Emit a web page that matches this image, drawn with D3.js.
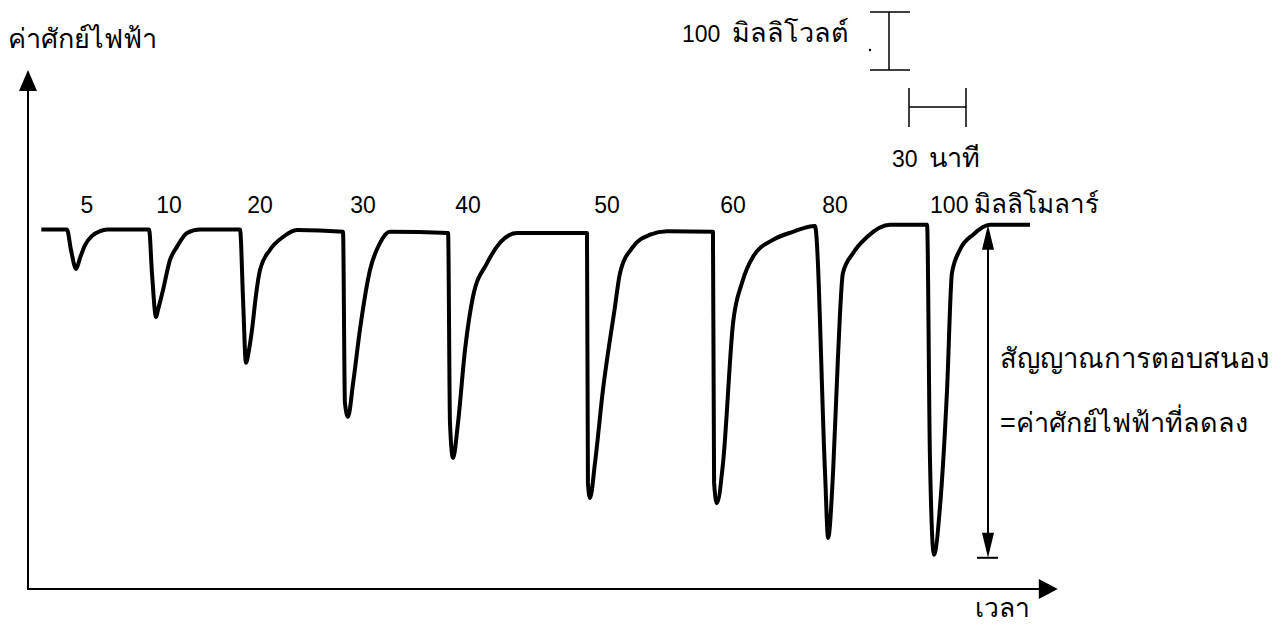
<!DOCTYPE html>
<html>
<head>
<meta charset="utf-8">
<script src="https://cdn.jsdelivr.net/npm/d3@7"></script>
<style>
  body { margin: 0; background: #fff; }
  text { font-family: "Liberation Sans", Arial, sans-serif; fill: #000; }
</style>
</head>
<body>
<svg id="chart" width="1282" height="635"></svg>
<script>
// concentrations added (millimolar) and the time each dose went in (minutes)
const concentrations = [5, 10, 20, 30, 40, 50, 60, 80, 100];
const onsetTimes = [20.5, 63.7, 111.6, 165.8, 221.1, 294.2, 360.5, 414.2, 473.2];

// recorded trace: time (min) and potential relative to baseline (mV)
const traceTime = [7, 20.5, 22.6, 25.3, 27.4, 30, 33.7, 37.9, 41.6,
  63.7, 65.3, 67.4, 68.4, 71.1, 74.7, 78.4, 83.7, 90.5,
  111.6, 113.2, 114.7, 116.3, 117.9, 120, 122.1, 127.4, 134.2, 141.6,
  165.8, 166.8, 168.4, 171.1, 174.7, 180, 185.3, 190.5,
  221.1, 222.1, 223.7, 226.3, 230, 234.2, 241.6, 248.4, 257.4,
  294.2, 294.7, 295.8, 298.4, 302.6, 308.9, 311.6, 318.4, 327.4, 336.3,
  360.5, 361.1, 362.6, 365.8, 371.1, 375.8, 381.6, 392.1, 402.6,
  414.2, 419.5, 421.1, 423.7, 426.3, 428.9, 434.2, 441.6, 453.7,
  473.2, 474.7, 476.8, 480, 483.7, 486.3, 490.5, 497.4, 506.3, 527.4];
const tracePotential = [0, 0, -35, -68, -49, -27, -11, -3, 0,
  0, -78, -151, -139, -104, -53, -30, -6, 0,
  0, -122, -230, -208, -173, -113, -70, -35, -13, -1,
  -4, -299, -323, -265, -173, -70, -23, -4,
  -6, -334, -394, -334, -208, -116, -58, -23, -6,
  -6, -437, -463, -403, -277, -134, -75, -30, -9, -3,
  -4, -437, -472, -403, -161, -92, -47, -18, -4,
  6, -420, -532, -420, -220, -75, -41, -13, 8,
  8, -392, -561, -478, -277, -75, -35, -9, 8, 8];

// scale bars
const scaleBarMv = 100;
const scaleBarMin = 30;

const svg = d3.select("#chart");

const x = d3.scaleLinear().domain([0, 542]).range([28, 1057.8]);
const y = d3.scaleLinear().domain([-620, 275]).range([589, 70]);

const trace = traceTime.map((t, i) => [t, tracePotential[i]]);

// axes with arrow heads
svg.append("line")
    .attr("x1", x(0)).attr("y1", y(-620))
    .attr("x2", x(0)).attr("y2", y(275) + 10)
    .attr("stroke", "#000").attr("stroke-width", 2);
svg.append("path")
    .attr("d", `M${x(0)},${y(275)} L${x(0) - 9},${y(275) + 21} L${x(0) + 9},${y(275) + 21} Z`)
    .attr("fill", "#000");
svg.append("line")
    .attr("x1", x(0) - 1).attr("y1", y(-620))
    .attr("x2", x(542) - 10).attr("y2", y(-620))
    .attr("stroke", "#000").attr("stroke-width", 2);
svg.append("path")
    .attr("d", `M${x(542)},${y(-620)} L${x(542) - 19},${y(-620) - 10} L${x(542) - 19},${y(-620) + 10} Z`)
    .attr("fill", "#000");

// trace
const line = d3.line()
    .x(d => x(d[0]))
    .y(d => y(d[1]))
    .curve(d3.curveMonotoneX);

svg.append("path")
    .datum(trace)
    .attr("d", line)
    .attr("fill", "none")
    .attr("stroke", "#000")
    .attr("stroke-width", 4)
    .attr("stroke-linejoin", "round");

// concentration labels
concentrations.forEach((c, i) => {
    const last = i === concentrations.length - 1;
    const t = svg.append("text")
        .attr("x", last ? x(onsetTimes[i]) + 3 : x(onsetTimes[i]) + 20)
        .attr("y", 213)
        .attr("text-anchor", last ? "start" : "middle")
        .style("font-size", "23px")
        .text(c);
    if (last) t.append("tspan").attr("dx", 6).style("font-size", "26px").text("มิลลิโมลาร์");
});

// response arrow for the last dose
const lastEnd = tracePotential[tracePotential.length - 1];
const lastMin = d3.min(tracePotential);
const ax = 988;
const aTop = y(lastEnd), aBot = y(lastMin) + 3;
svg.append("line")
    .attr("x1", ax).attr("x2", ax)
    .attr("y1", aTop + 20).attr("y2", aBot - 20)
    .attr("stroke", "#000").attr("stroke-width", 2);
svg.append("path")
    .attr("d", `M${ax},${aTop} L${ax - 6},${aTop + 25} L${ax + 6},${aTop + 25} Z`)
    .attr("fill", "#000");
svg.append("path")
    .attr("d", `M${ax},${aBot} L${ax - 6},${aBot - 25} L${ax + 6},${aBot - 25} Z`)
    .attr("fill", "#000");
svg.append("line")
    .attr("x1", ax - 11).attr("x2", ax + 10)
    .attr("y1", aBot).attr("y2", aBot)
    .attr("stroke", "#000").attr("stroke-width", 2);

// vertical scale bar (mV)
const vbX = 889, vbTop = 12;
const vbH = y(0) - y(scaleBarMv);
svg.append("line")
    .attr("x1", vbX).attr("x2", vbX)
    .attr("y1", vbTop).attr("y2", vbTop + vbH)
    .attr("stroke", "#000").attr("stroke-width", 1.5);
[vbTop, vbTop + vbH].forEach(yy => {
    svg.append("line")
        .attr("x1", vbX - 19).attr("x2", vbX + 21)
        .attr("y1", yy).attr("y2", yy)
        .attr("stroke", "#000").attr("stroke-width", 1.5);
});
svg.append("circle").attr("cx", 870).attr("cy", 50).attr("r", 1.2).attr("fill", "#000");
svg.append("text")
    .attr("x", 682).attr("y", 42)
    .style("font-size", "23px")
    .text(scaleBarMv)
  .append("tspan")
    .attr("dx", 12)
    .style("font-size", "27px")
    .text("มิลลิโวลต์");

// horizontal scale bar (min)
const hbX = 909, hbY = 107;
const hbW = x(scaleBarMin) - x(0);
svg.append("line")
    .attr("x1", hbX).attr("x2", hbX + hbW)
    .attr("y1", hbY).attr("y2", hbY)
    .attr("stroke", "#000").attr("stroke-width", 1.5);
[hbX, hbX + hbW].forEach(xx => {
    svg.append("line")
        .attr("x1", xx).attr("x2", xx)
        .attr("y1", hbY - 19).attr("y2", hbY + 20)
        .attr("stroke", "#000").attr("stroke-width", 1.5);
});
svg.append("text")
    .attr("x", 892).attr("y", 167)
    .style("font-size", "23px")
    .text(scaleBarMin)
  .append("tspan")
    .attr("dx", 11)
    .style("font-size", "27px")
    .text("นาที");

// axis titles and notes
svg.append("text")
    .attr("x", 8).attr("y", 48)
    .style("font-size", "27px")
    .text("ค่าศักย์ไฟฟ้า");
svg.append("text")
    .attr("x", 975).attr("y", 617)
    .style("font-size", "26.5px")
    .text("เวลา");
svg.append("text")
    .attr("x", 1000).attr("y", 368)
    .style("font-size", "27.5px")
    .text("สัญญาณการตอบสนอง");
svg.append("text")
    .attr("x", 1000).attr("y", 432)
    .style("font-size", "27px")
    .text("=ค่าศักย์ไฟฟ้าที่ลดลง");
</script>
</body>
</html>
